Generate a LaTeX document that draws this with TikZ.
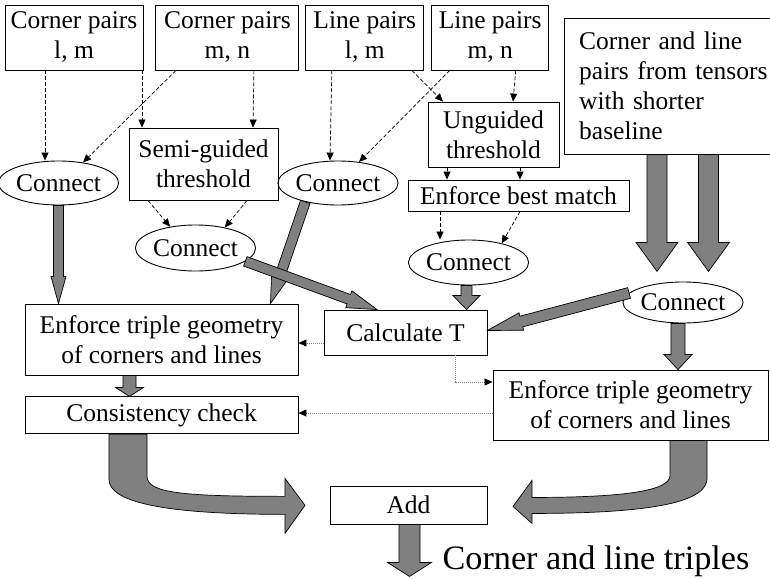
\documentclass[tikz,border=0pt]{standalone}
\usepackage{fontspec}
\setmainfont{Liberation Serif}
\usetikzlibrary{positioning,arrows.meta,calc,shapes.geometric}

% fat grey arrow: from, to, half shaft, half head, head length
\newcommand\fatarrow[5]{%
  \path let \p1=(#1), \p2=(#2) in
    \pgfextra{\pgfmathsetmacro\fatang{atan2(\y2-\y1,\x2-\x1)}%
              \pgfmathsetmacro\fatlen{veclen(\x2-\x1,\y2-\y1)}%
              \xdef\fatang{\fatang}\xdef\fatlen{\fatlen}};
  \draw[fat,shift={(#1)},rotate=\fatang]
    (0pt,#3pt) -- ({\fatlen pt-#5pt},#3pt) -- ({\fatlen pt-#5pt},#4pt)
    -- (\fatlen pt,0pt) -- ({\fatlen pt-#5pt},-#4pt) -- ({\fatlen pt-#5pt},-#3pt)
    -- (0pt,-#3pt) -- cycle;}

\begin{document}
\begin{tikzpicture}[x=1pt,y=-1pt,
   font=\fontsize{25.5}{30}\selectfont,
   bx/.style={draw,line width=0.9pt,inner sep=0pt,align=center},
   ell/.style={ellipse,draw,line width=0.9pt,inner sep=0pt},
   fat/.style={draw=black,line width=0.7pt,fill=black!50},
   dwire/.style={line width=0.7pt,dash pattern=on 4pt off 2pt,
                 -{Triangle[length=8pt,width=7pt]}},
   twire/.style={line width=0.7pt,gray,dash pattern=on 1pt off 1pt,
                 -{Triangle[length=8pt,width=7pt,color=black]}},
]
\useasboundingbox (0,0) rectangle (770,578);

% ----- top row: pairs
\node[bx,minimum width=138pt,minimum height=65pt] (cplm) at (74,37.5) {Corner pairs\\l, m};
\node[bx,minimum width=143pt,minimum height=65pt,right=12pt of cplm] (cpmn) {Corner pairs\\m, n};
\node[bx,minimum width=118pt,minimum height=65pt,right=6pt of cpmn] (lplm) {Line pairs\\l, m};
\node[bx,minimum width=117pt,minimum height=65pt,right=7pt of lplm] (lpmn) {Line pairs\\m, n};
\node[anchor=north west,inner xsep=15pt,inner ysep=0pt,text width=190pt,
      minimum height=136pt,align=left] (shorter) at (564,18)
   {Corner and line\\pairs from tensors\\with shorter\\baseline};
\draw[line width=0.9pt] (shorter.north east) -- (shorter.north west)
   -- (shorter.south west) -- (shorter.south east);

% ----- thresholds and connects
\node[bx,minimum width=149pt,minimum height=72pt] (semi) at (203.5,164) {Semi-guided\\threshold};
\node[bx,minimum width=131pt,minimum height=65pt] (unguid) at (493.5,134.5) {Unguided\\threshold};
\node[bx,minimum width=221pt,minimum height=31pt] (bestm) at (518.5,195.5) {Enforce best match};
\node[ell,minimum width=107pt,minimum height=44pt] (conc1) at (58.5,183) {Connect};
\node[ell,minimum width=110pt,minimum height=44pt] (conl1) at (338,183) {Connect};
\node[ell,minimum width=107pt,minimum height=46pt] (conc2) at (195.5,248) {Connect};
\node[ell,minimum width=109pt,minimum height=45pt] (conl2) at (468.5,262.5) {Connect};
\node[ell,minimum width=108pt,minimum height=41pt] (conshort) at (683,302.5) {Connect};

% ----- lower part
\node[bx,minimum width=163pt,minimum height=45pt] (calct) at (405.5,332.5) {Calculate T};
\node[bx,minimum width=273pt,minimum height=71pt] (geoml) at (161.5,339.5)
   {Enforce triple geometry\\of corners and lines};
\node[bx,minimum width=273pt,minimum height=37pt,below=21pt of geoml] (cons) {Consistency check};
\node[bx,minimum width=275pt,minimum height=70pt] (geomr) at (630.5,405)
   {Enforce triple geometry\\of corners and lines};
\node[bx,minimum width=157pt,minimum height=38pt] (add) at (408.5,505) {Add};
\node[inner sep=0pt,font=\fontsize{34.2}{40}\selectfont] (triples) at (596,561)
   {Corner and line triples};

\coordinate (shtipa) at ([xshift=93pt,yshift=-117pt]shorter.south west);
\coordinate (shtipb) at ([xshift=144.5pt,yshift=-117pt]shorter.south west);
\coordinate (addtip) at ([xshift=1pt,yshift=-52pt]add.south);

% dashed wires
\draw[dwire] ([xshift=-29pt]cplm.south) -- ([xshift=-13.5pt]conc1.north);
\draw[dwire] ([xshift=68pt]cplm.south) -- ([xshift=-61.5pt]semi.north);
\draw[dwire] ([xshift=-51.5pt]cpmn.south) -- (conc1.40);
\draw[dwire] ([xshift=26.5pt]cpmn.south) -- ([xshift=49.5pt]semi.north);
\draw[dwire] ([xshift=-33pt]lplm.south) -- ([xshift=-8pt]conl1.north);
\draw[dwire] ([xshift=-40.5pt]lpmn.south) -- (conl1.45);
\draw[dwire] ([xshift=47pt]lplm.south) -- ([xshift=-50.5pt]unguid.north);
\draw[dwire] ([xshift=25.5pt]lpmn.south) -- ([xshift=19.5pt]unguid.north);
\draw[dwire] ([xshift=-46.5pt]unguid.south) -- ([xshift=-71.5pt]bestm.north);
\draw[dwire] ([xshift=26.5pt]unguid.south) -- ([xshift=1.5pt]bestm.north);
\draw[dwire] ([xshift=-55.5pt]semi.south) -- (conc2.140);
\draw[dwire] ([xshift=43.5pt]semi.south) -- (conc2.35);
\draw[dwire] ([xshift=-78.5pt]bestm.south) -- ([xshift=-28.5pt]conl2.north);
\draw[dwire] ([xshift=1.5pt]bestm.south) -- (conl2.30);

% dotted wires
\draw[twire] ([yshift=-10.5pt]calct.west) -- ([yshift=-10.5pt]calct.west -| geoml.east);
\draw[twire] ([xshift=49.5pt]calct.south) |- ([yshift=23pt]geomr.west);
\draw[twire] ([yshift=-8pt]geomr.west) -- ([yshift=-8pt]geomr.west -| cons.east);

% fat arrows
\fatarrow{conc1.south}{conc1.south |- geoml.north}{5}{7.5}{27}
\fatarrow{conl1.210}{[xshift=-28pt]geoml.north east}{5}{9}{30}
\fatarrow{conc2.-15}{[xshift=-28.5pt]calct.north}{5}{9}{30}
\fatarrow{[xshift=-2pt]conl2.south}{[xshift=-2pt]conl2.south |- calct.north}{5.5}{13.5}{14}
\fatarrow{conshort.170}{[yshift=2pt]calct.east}{5.5}{9}{35}
\fatarrow{[xshift=-5pt]conshort.south}{[xshift=-5pt]conshort.south |- geomr.north}{7}{14}{15}
\fatarrow{[xshift=-32pt]geoml.south}{[xshift=-32pt]geoml.south |- cons.north}{6.5}{14}{9}
\fatarrow{[xshift=93pt]shorter.south west}{shtipa}{10}{21}{29}
\fatarrow{[xshift=144.5pt]shorter.south west}{shtipb}{10}{21}{29}
\fatarrow{[xshift=1pt]add.south}{addtip}{10.5}{22}{14}

% curved fat arrows into Add
\begin{scope}[shift={(cons.south)}]
\draw[fat] (-52.5,0) -- (-52.5,45) .. controls (-52.5,67) and (-1.5,80) .. (123.5,80)
   -- (123.5,99) -- (143.5,71) -- (123.5,44) -- (123.5,62)
   .. controls (23.5,62) and (-14.5,59) .. (-14.5,42) -- (-14.5,0) -- cycle;
\end{scope}
\begin{scope}[shift={(geomr.south)}]
\draw[fat] (76.5,0) -- (76.5,38) .. controls (76.5,60) and (29.5,73) .. (-98.5,73)
   -- (-98.5,83) -- (-117.5,66) -- (-98.5,40) -- (-98.5,57)
   .. controls (-3.5,57) and (39.5,50) .. (39.5,35) -- (39.5,0) -- cycle;
\end{scope}
\end{tikzpicture}
\end{document}
